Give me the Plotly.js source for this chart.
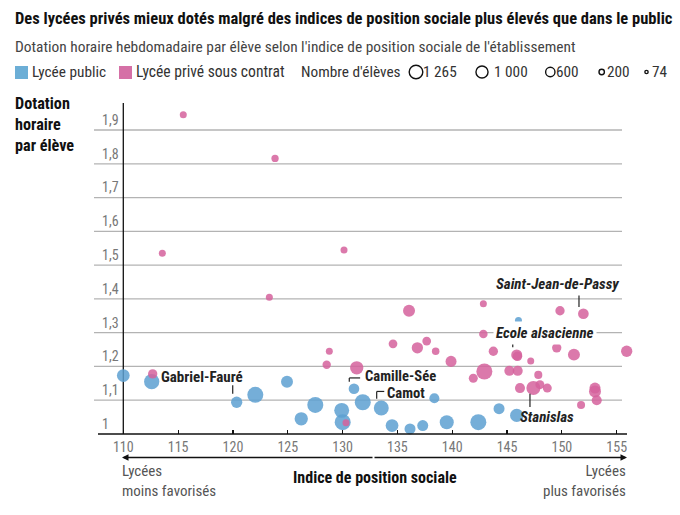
<!DOCTYPE html>
<html><head><meta charset="utf-8">
<script src="https://cdn.plot.ly/plotly-3.0.1.min.js"></script>
<style>html,body{margin:0;padding:0;background:#fff}#chart{width:680px;height:515px}</style>
</head><body><div id="chart"></div>
<script>
// ---------- DATA ----------
const publicIPS = [110.0,112.59,120.34,122.04,124.93,126.23,127.51,129.92,130.01,131.04,131.84,133.53,134.51,136.15,137.31,138.37,139.50,142.38,144.27,145.88,146.04];
const publicDot = [1.173,1.155,1.094,1.116,1.155,1.045,1.086,1.070,1.035,1.134,1.094,1.077,1.025,1.015,1.025,1.106,1.035,1.035,1.075,1.055,1.336];
const publicEleves = [800,1150,630,1265,710,875,1265,1100,1265,560,1265,1100,800,600,600,500,970,1265,600,875,240];

const priveIPS = [115.47,123.84,113.56,130.13,123.32,128.79,128.55,112.68,134.6,131.29,130.31,136.06,142.84,149.83,151.96,142.84,136.82,137.67,138.49,139.89,143.75,145.88,145.95,147.16,149.53,151.1,155.91,141.92,142.93,145.21,145.97,147.85,146.18,147.4,148.0,148.67,151.75,153.02,153.02,153.18];
const priveDot = [1.945,1.816,1.535,1.545,1.405,1.245,1.205,1.178,1.267,1.196,1.033,1.365,1.386,1.365,1.356,1.296,1.255,1.275,1.245,1.215,1.245,1.234,1.230,1.216,1.255,1.235,1.245,1.165,1.185,1.187,1.187,1.175,1.136,1.136,1.146,1.136,1.086,1.136,1.126,1.100];
const priveEleves = [178,263,80,120,200,180,350,430,375,875,240,710,210,430,565,360,630,375,280,600,430,600,450,240,430,710,630,400,1265,500,500,320,500,970,400,400,320,600,710,500];

const xTickVals = [110,115,120,125,130,135,140,145,150,155];
const yTickVals = [1,1.1,1.2,1.3,1.4,1.5,1.6,1.7,1.8,1.9];
const yTickText = ['1','1,1','1,2','1,3','1,4','1,5','1,6','1,7','1,8','1,9'];
const legendEleves = [1265,1000,600,200,74];
const legendLabels = ['1 265','1 000','600','200','74'];
const seriesNames = ['Lycée public','Lycée privé sous contrat'];

// ---------- LAYOUT HELPERS ----------
const FONT = '"Liberation Sans Narrow","Arial Narrow","Roboto Condensed","Liberation Sans",sans-serif';
const BLUE = 'rgb(93,160,209)', PINK = 'rgb(213,98,156)';
const L = 94, R = 630, T = 103, B = 434;
const px2x = p => (p - L) / (R - L);
const py2y = p => (B - p) / (B - T);
const MAXD = 16, MAXN = 1265;
const sizeref = 2 * MAXN / (MAXD * MAXD);
const diam = n => MAXD * Math.sqrt(n / MAXN);

const traces = [
  {type:'scatter', mode:'markers', name:seriesNames[0], x:publicIPS, y:publicDot,
   marker:{size:publicEleves, sizemode:'area', sizeref:sizeref, sizemin:3.5, color:BLUE, opacity:0.85, line:{width:0}},
   cliponaxis:false, hoverinfo:'skip', showlegend:false},
  {type:'scatter', mode:'markers', name:seriesNames[1], x:priveIPS, y:priveDot,
   marker:{size:priveEleves, sizemode:'area', sizeref:sizeref, sizemin:3.5, color:PINK, opacity:0.85, line:{width:0}},
   cliponaxis:false, hoverinfo:'skip', showlegend:false}
];

const ann = [];
const shapes = [];
function txt(text, xp, yp, opts) {
  ann.push(Object.assign({text:text, x:px2x(xp), y:py2y(yp), xref:'paper', yref:'paper',
    xanchor:'left', yanchor:'middle', showarrow:false, align:'left',
    font:{family:FONT, size:15, color:'#333'}}, opts||{}));
}
// horizontal gridlines (end short of the right edge, as in the reference)
yTickVals.slice(1).forEach(v => {
  shapes.push({type:'line', xref:'paper', yref:'y', x0:0, x1:px2x(622), y0:v, y1:v, line:{color:'#b3b3b3', width:1.3}, layer:'below'});
});
// header
txt('<b>Des lycées privés mieux dotés malgré des indices de position sociale plus élevés que dans le public</b>', 13, 18, {font:{family:FONT,size:16.5,color:'#111'}});
txt('Dotation horaire hebdomadaire par élève selon l\'indice de position sociale de l\'établissement', 13, 47, {font:{family:FONT,size:15.4,color:'#444'}});
// colour legend
const legY = 72;
shapes.push({type:'rect', xref:'paper', yref:'paper', x0:px2x(15), x1:px2x(28), y0:py2y(79), y1:py2y(66), fillcolor:'rgb(108,174,214)', line:{width:0}});
txt(seriesNames[0], 30, legY, {font:{family:FONT,size:15.3,color:'#333'}});
shapes.push({type:'rect', xref:'paper', yref:'paper', x0:px2x(119), x1:px2x(132), y0:py2y(79), y1:py2y(66), fillcolor:'rgb(213,112,166)', line:{width:0}});
txt(seriesNames[1], 134, legY, {font:{family:FONT,size:15.6,color:'#333'}});
txt('Nombre d\'élèves', 299, legY, {font:{family:FONT,size:15.3,color:'#333'}});
const legCenters = [416, 482, 550.3, 601.7, 646.5];
const legLabelStarts = [421, 492, 554, 605, 650];
legendEleves.forEach((n, i) => {
  const d = diam(n) * 0.85;
  shapes.push({type:'circle', xref:'paper', yref:'paper', xsizemode:'pixel', ysizemode:'pixel',
    xanchor:px2x(legCenters[i]), yanchor:py2y(legY), x0:-d/2, x1:d/2, y0:-d/2, y1:d/2,
    line:{color:'#111', width:1.4}, fillcolor:'rgba(0,0,0,0)'});
  txt(legendLabels[i], legLabelStarts[i], legY, {font:{family:FONT,size:15.3,color:'#333'}});
});
// y title
ann.push({text:'<b>Dotation<br>horaire<br>par élève</b>', x:px2x(13), y:py2y(92), xref:'paper', yref:'paper',
  xanchor:'left', yanchor:'top', showarrow:false, align:'left', font:{family:FONT,size:16.2,color:'#111'}});
// bottom
txt('<b>Indice de position sociale</b>', 375, 477, {xanchor:'center', font:{family:FONT,size:16,color:'#111'}});
txt('Lycées<br>moins favorisés', 120, 480.5, {font:{family:FONT,size:15,color:'#555'}});
txt('Lycées<br>plus favorisés', 628, 480.5, {xanchor:'right', align:'right', font:{family:FONT,size:15,color:'#555'}});
ann.push({text:'', x:px2x(122), y:py2y(457.5), xref:'paper', yref:'paper', showarrow:true, ax:252, ay:0,
  arrowhead:2, arrowsize:1, arrowwidth:1.3, arrowcolor:'#111'});
ann.push({text:'', x:px2x(627), y:py2y(457.5), xref:'paper', yref:'paper', showarrow:true, ax:-254, ay:0,
  arrowhead:2, arrowsize:1, arrowwidth:1.3, arrowcolor:'#111'});
// axis lines
shapes.push({type:'line', xref:'paper', yref:'paper', x0:px2x(98), x1:px2x(627), y0:0, y1:0, line:{color:'#111', width:1.5}});
shapes.push({type:'line', xref:'x', yref:'paper', x0:110, x1:110, y0:0, y1:1, line:{color:'#111', width:1.3}, layer:'below'});

// point labels
function lab(text, x, y, opts) {
  ann.push(Object.assign({text:text, x:x, y:y, xref:'x', yref:'y', xanchor:'left', yanchor:'middle',
    showarrow:false, font:{family:FONT, size:15, color:'#222'}}, opts||{}));
}
function seg(x0,y0,x1,y1){ shapes.push({type:'line', xref:'x', yref:'y', x0:x0,y0:y0,x1:x1,y1:y1, line:{color:'#222', width:1.2}}); }
lab('<b>Gabriel-Fauré</b>', 113.3, 1.170);
seg(119.98,1.144,119.98,1.119);
lab('<b>Camille-Sée</b>', 131.9, 1.171, {font:{family:FONT, size:14.6, color:'#222'}});
seg(130.61,1.166,131.6,1.166); seg(130.61,1.166,130.61,1.155);
lab('<b>Camot</b>', 133.9, 1.120, {font:{family:FONT, size:14.6, color:'#222'}});
seg(133.11,1.126,133.8,1.126); seg(133.11,1.126,133.11,1.104);
lab('<b><i>Saint-Jean-de-Passy</i></b>', 155.35, 1.444, {xanchor:'right'});
seg(151.56,1.41,151.56,1.376);
lab('<b><i>Ecole alsacienne</i></b>', 143.75, 1.299, {bgcolor:'#fff', borderpad:2});
seg(145.52,1.274,145.52,1.257);
lab('<b><i>Stanislas</i></b>', 148.6, 1.051, {xanchor:'center'});
seg(147.09,1.119,147.09,1.08);

const layout = {
  width:680, height:515,
  margin:{l:L, r:680-R, t:T, b:515-B, pad:0},
  paper_bgcolor:'#fff', plot_bgcolor:'#fff',
  separators:', ',
  showlegend:false,
  font:{family:FONT, size:13, color:'#777'},
  xaxis:{range:[107.328,156.213], tickvals:xTickVals, showgrid:false, zeroline:false, showline:false,
    ticks:'inside', ticklen:4, tickwidth:1.2, tickcolor:'#111', ticklabelstandoff:3,
    tickfont:{family:FONT, size:14, color:'#777'}, fixedrange:true},
  yaxis:{range:[1.0,1.98], tickvals:yTickVals, ticktext:yTickText, showgrid:false,
    zeroline:false, showline:false, ticks:'', ticklabelposition:'inside', ticklabelshift:-10, ticklabelstandoff:5,
    tickfont:{family:FONT, size:14, color:'#777'}, fixedrange:true},
  annotations:ann,
  shapes:shapes
};
Plotly.newPlot('chart', traces, layout, {displayModeBar:false, staticPlot:true});
</script></body></html>
